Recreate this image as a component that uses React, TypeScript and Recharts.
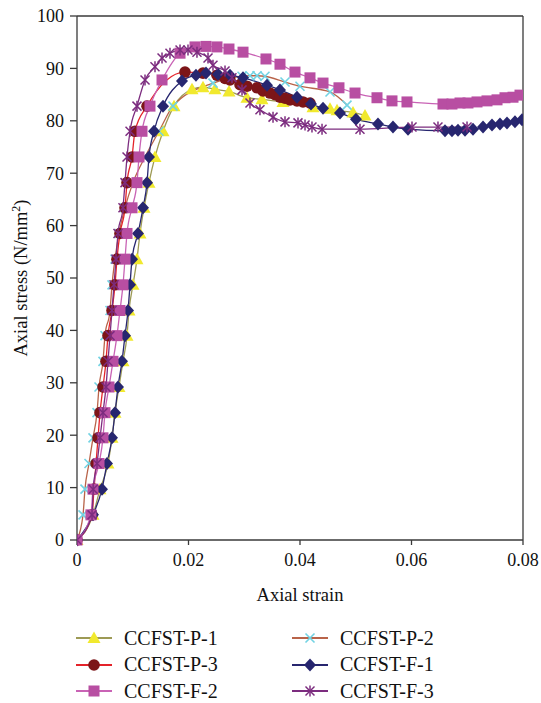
import React from 'react';
import { LineChart, Line, XAxis, YAxis, ReferenceLine } from 'recharts';

// stress levels shared by the loading branch of every specimen (N/mm2)
const RISE_STRESS = [0, 4.8, 9.7, 14.6, 19.5, 24.3, 29.2, 34.1, 39.0, 43.8, 48.7, 53.6, 58.5, 63.4, 68.2, 73.1, 78.0, 82.8];

const P1_STRAIN = [0, 0.00287, 0.00413, 0.00556, 0.00628, 0.00682, 0.00753, 0.00825, 0.00897, 0.00933, 0.01004, 0.01076, 0.0113, 0.01202, 0.01291, 0.01399, 0.01543, 0.0174,
  0.02063, 0.0226, 0.02475, 0.02726, 0.03049, 0.03318, 0.03695, 0.04233, 0.04538, 0.04664, 0.04951, 0.05166];
const P1_STRESS = [...RISE_STRESS, 86.0, 86.4, 86.0, 85.6, 84.4, 84.1, 83.6, 82.6, 82.3, 82.0, 81.6, 81.0];

const P2_STRAIN = [0, 0.00108, 0.00143, 0.00215, 0.00287, 0.00359, 0.00395, 0.00466, 0.00502, 0.00592, 0.00628, 0.00682, 0.00753, 0.00861, 0.01004, 0.0122, 0.01471, 0.01722,
  0.02439, 0.0296, 0.03103, 0.03229, 0.03372, 0.03731, 0.04, 0.04538, 0.04843];
const P2_STRESS = [...RISE_STRESS, 87.2, 88.5, 88.6, 88.6, 88.5, 87.4, 86.6, 85.5, 83.0];

const P3_STRAIN = [0, 0.00269, 0.00305, 0.00341, 0.00377, 0.00413, 0.00466, 0.0052, 0.00556, 0.00628, 0.00682, 0.00717, 0.00771, 0.00861, 0.00897, 0.00987, 0.0104, 0.01256,
  0.01937, 0.0226, 0.02511, 0.02655, 0.02744, 0.02924, 0.03049, 0.03229, 0.03336, 0.03462, 0.03552, 0.03641, 0.03731, 0.03821, 0.03946, 0.04054, 0.04179];
const P3_STRESS = [...RISE_STRESS, 89.3, 89.1, 88.7, 88.1, 87.8, 86.9, 86.6, 86.3, 85.7, 85.3, 85.0, 84.5, 84.3, 84.0, 83.8, 83.6, 83.4];

const F1_STRAIN = [0, 0.00287, 0.00448, 0.00538, 0.00628, 0.00682, 0.00735, 0.00807, 0.00861, 0.00915, 0.00951, 0.00987, 0.01094, 0.01184, 0.01256, 0.01291, 0.01381, 0.01543,
  0.01883, 0.02134, 0.02314, 0.02529, 0.02744, 0.02978, 0.03408, 0.03641, 0.03946, 0.04197, 0.04413, 0.04717, 0.05004, 0.05399, 0.05668, 0.05937,
  0.06601, 0.06726, 0.06834, 0.0696, 0.07103, 0.07283, 0.07444, 0.07587, 0.07713, 0.07856, 0.07982];
const F1_STRESS = [...RISE_STRESS, 87.6, 88.7, 89.1, 88.9, 88.7, 88.2, 86.8, 85.9, 84.5, 83.2, 82.4, 81.5, 80.3, 79.4, 78.8, 78.4,
  78.1, 78.1, 78.2, 78.2, 78.4, 78.8, 79.2, 79.4, 79.6, 79.8, 80.2];

const F2_STRAIN = [0, 0.0025, 0.00287, 0.00395, 0.00466, 0.00502, 0.00574, 0.00646, 0.00717, 0.00771, 0.00825, 0.00861, 0.00897, 0.00987, 0.01076, 0.01112, 0.01166, 0.01309,
  0.01525, 0.01848, 0.02117, 0.02314, 0.02511, 0.02726, 0.02978, 0.0339, 0.03641, 0.0391, 0.04179, 0.04413, 0.04699, 0.04987, 0.05381, 0.0565, 0.05919,
  0.06565, 0.06726, 0.0687, 0.07013, 0.07175, 0.07354, 0.07534, 0.07677, 0.07821, 0.07946];
const F2_STRESS = [...RISE_STRESS, 87.8, 92.9, 94.1, 94.2, 94.1, 93.7, 93.1, 91.8, 90.8, 89.3, 88.2, 87.2, 86.3, 85.3, 84.4, 83.8, 83.6,
  83.2, 83.2, 83.4, 83.4, 83.6, 83.8, 84.0, 84.4, 84.5, 84.9];

const F3_STRAIN = [0, 0.0027, 0.0029, 0.00359, 0.00413, 0.00466, 0.0052, 0.00556, 0.00592, 0.00628, 0.00664, 0.007, 0.00735, 0.00825, 0.00861, 0.00897, 0.00951, 0.01076,
  0.0122, 0.01399, 0.01525, 0.01668, 0.01848, 0.01991, 0.02152, 0.0235, 0.02439, 0.02655, 0.0278, 0.0296, 0.03103, 0.03282, 0.03516, 0.03731,
  0.03964, 0.0409, 0.04215, 0.04395, 0.05076, 0.06009, 0.06475, 0.06996];
const F3_STRESS = [...RISE_STRESS, 87.8, 90.3, 92.0, 92.9, 93.5, 93.5, 93.1, 92.0, 90.6, 89.5, 88.2, 85.9, 83.4, 82.1, 80.7, 79.8,
  79.6, 79.2, 78.8, 78.4, 78.4, 78.8, 78.8, 78.8];

const X_TICKS = [0, 0.02, 0.04, 0.06, 0.08];
const Y_TICKS = [0, 10, 20, 30, 40, 50, 60, 70, 80, 90, 100];

const FONT = '"Liberation Serif", "DejaVu Serif", serif';
const AXIS = '#3a3a3a';
const TEXT = '#111';

type MarkerKind = 'triangle' | 'x' | 'circle' | 'diamond' | 'square' | 'asterisk';

function Marker({ kind, cx, cy, color }: { kind: MarkerKind; cx: number; cy: number; color: string }) {
  switch (kind) {
    case 'triangle':
      return <polygon points={`${cx},${cy - 6.5} ${cx + 6.5},${cy + 5} ${cx - 6.5},${cy + 5}`} fill={color} />;
    case 'x':
      return (
        <g stroke={color} strokeWidth={1.6}>
          <line x1={cx - 4.5} y1={cy - 4.5} x2={cx + 4.5} y2={cy + 4.5} />
          <line x1={cx - 4.5} y1={cy + 4.5} x2={cx + 4.5} y2={cy - 4.5} />
        </g>
      );
    case 'circle':
      return <circle cx={cx} cy={cy} r={5.8} fill={color} />;
    case 'diamond':
      return <polygon points={`${cx},${cy - 6.5} ${cx + 6},${cy} ${cx},${cy + 6.5} ${cx - 6},${cy}`} fill={color} />;
    case 'square':
      return <rect x={cx - 5.5} y={cy - 5.5} width={11} height={11} fill={color} />;
    case 'asterisk':
      return (
        <g stroke={color} strokeWidth={1.5}>
          <line x1={cx - 4.5} y1={cy - 4.5} x2={cx + 4.5} y2={cy + 4.5} />
          <line x1={cx - 4.5} y1={cy + 4.5} x2={cx + 4.5} y2={cy - 4.5} />
          <line x1={cx} y1={cy - 5.5} x2={cx} y2={cy + 5.5} />
        </g>
      );
  }
  return null;
}

const zip = (xs: number[], ys: number[]) => xs.map((x, i) => ({ x, y: ys[i] }));

const SERIES = [
  { name: 'CCFST-P-1', data: zip(P1_STRAIN, P1_STRESS), line: '#9d9a55', marker: '#f1e92e', kind: 'triangle' as MarkerKind },
  { name: 'CCFST-P-2', data: zip(P2_STRAIN, P2_STRESS), line: '#b9644a', marker: '#72d3e3', kind: 'x' as MarkerKind },
  { name: 'CCFST-P-3', data: zip(P3_STRAIN, P3_STRESS), line: '#e4232a', marker: '#7c1518', kind: 'circle' as MarkerKind },
  { name: 'CCFST-F-1', data: zip(F1_STRAIN, F1_STRESS), line: '#27266f', marker: '#27266f', kind: 'diamond' as MarkerKind },
  { name: 'CCFST-F-2', data: zip(F2_STRAIN, F2_STRESS), line: '#c963b5', marker: '#b84ea2', kind: 'square' as MarkerKind },
  { name: 'CCFST-F-3', data: zip(F3_STRAIN, F3_STRESS), line: '#7c2c7f', marker: '#7c2c7f', kind: 'asterisk' as MarkerKind },
];

// legend is two columns, filled row by row
const LEGEND_ROWS = [
  [SERIES[0], SERIES[1]],
  [SERIES[2], SERIES[3]],
  [SERIES[4], SERIES[5]],
];

function LegendItem({ s }: { s: (typeof SERIES)[number] }) {
  return (
    <div style={{ display: 'flex', alignItems: 'center', height: 26.5 }}>
      <svg width={36} height={16} style={{ marginRight: 12 }}>
        <line x1={0} y1={8} x2={36} y2={8} stroke={s.line} strokeWidth={1.8} />
        <Marker kind={s.kind} cx={18} cy={8} color={s.marker} />
      </svg>
      <span style={{ fontSize: 20, color: TEXT }}>{s.name}</span>
    </div>
  );
}

export default function App() {
  return (
    <div style={{ position: 'absolute', left: 0, top: 0, width: 541, height: 703, background: '#fff', fontFamily: FONT }}>
      <LineChart width={541} height={612} margin={{ top: 16, right: 18, bottom: 0, left: 27 }}>
        <XAxis
          type="number"
          dataKey="x"
          domain={[0, 0.08]}
          ticks={X_TICKS}
          tickFormatter={(v) => (v === 0 ? '0' : String(v))}
          height={72}
          stroke={AXIS}
          strokeWidth={1.3}
          tickSize={5}
          tickMargin={8}
          tick={{ fill: TEXT, fontSize: 18, fontFamily: FONT }}
          allowDataOverflow
          label={{
            content: (p: any) => (
              <text x={p.viewBox.x + p.viewBox.width / 2} y={601} textAnchor="middle" fontSize={18.5} fontFamily={FONT} fill={TEXT}>
                Axial strain
              </text>
            ),
          }}
        />
        <YAxis
          type="number"
          domain={[0, 100]}
          ticks={Y_TICKS}
          width={50}
          stroke={AXIS}
          strokeWidth={1.3}
          tickSize={7}
          tickMargin={6}
          tick={{ fill: TEXT, fontSize: 18, fontFamily: FONT }}
          label={{
            content: (p: any) => {
              const cy = p.viewBox.y + p.viewBox.height / 2;
              return (
                <text x={27} y={cy} transform={`rotate(-90 27 ${cy})`} textAnchor="middle" fontSize={18.5} fontFamily={FONT} fill={TEXT}>
                  Axial stress (N/mm<tspan baselineShift="super" fontSize={12}>2</tspan>)
                </text>
              );
            },
          }}
        />
        <ReferenceLine y={100} stroke={AXIS} strokeWidth={1.3} />
        <ReferenceLine x={0.08} stroke={AXIS} strokeWidth={1.3} />
        {SERIES.map((s) => (
          <Line
            key={s.name}
            data={s.data}
            dataKey="y"
            name={s.name}
            type="monotone"
            stroke={s.line}
            strokeWidth={1.3}
            isAnimationActive={false}
            activeDot={false}
            dot={(p: any) => <Marker key={`${s.name}-${p.index}`} kind={s.kind} cx={p.cx} cy={p.cy} color={s.marker} />}
          />
        ))}
      </LineChart>
      <div style={{ position: 'absolute', left: 76, top: 625, display: 'flex' }}>
        <div style={{ width: 216 }}>
          {LEGEND_ROWS.map((row) => <LegendItem key={row[0].name} s={row[0]} />)}
        </div>
        <div>
          {LEGEND_ROWS.map((row) => <LegendItem key={row[1].name} s={row[1]} />)}
        </div>
      </div>
    </div>
  );
}
